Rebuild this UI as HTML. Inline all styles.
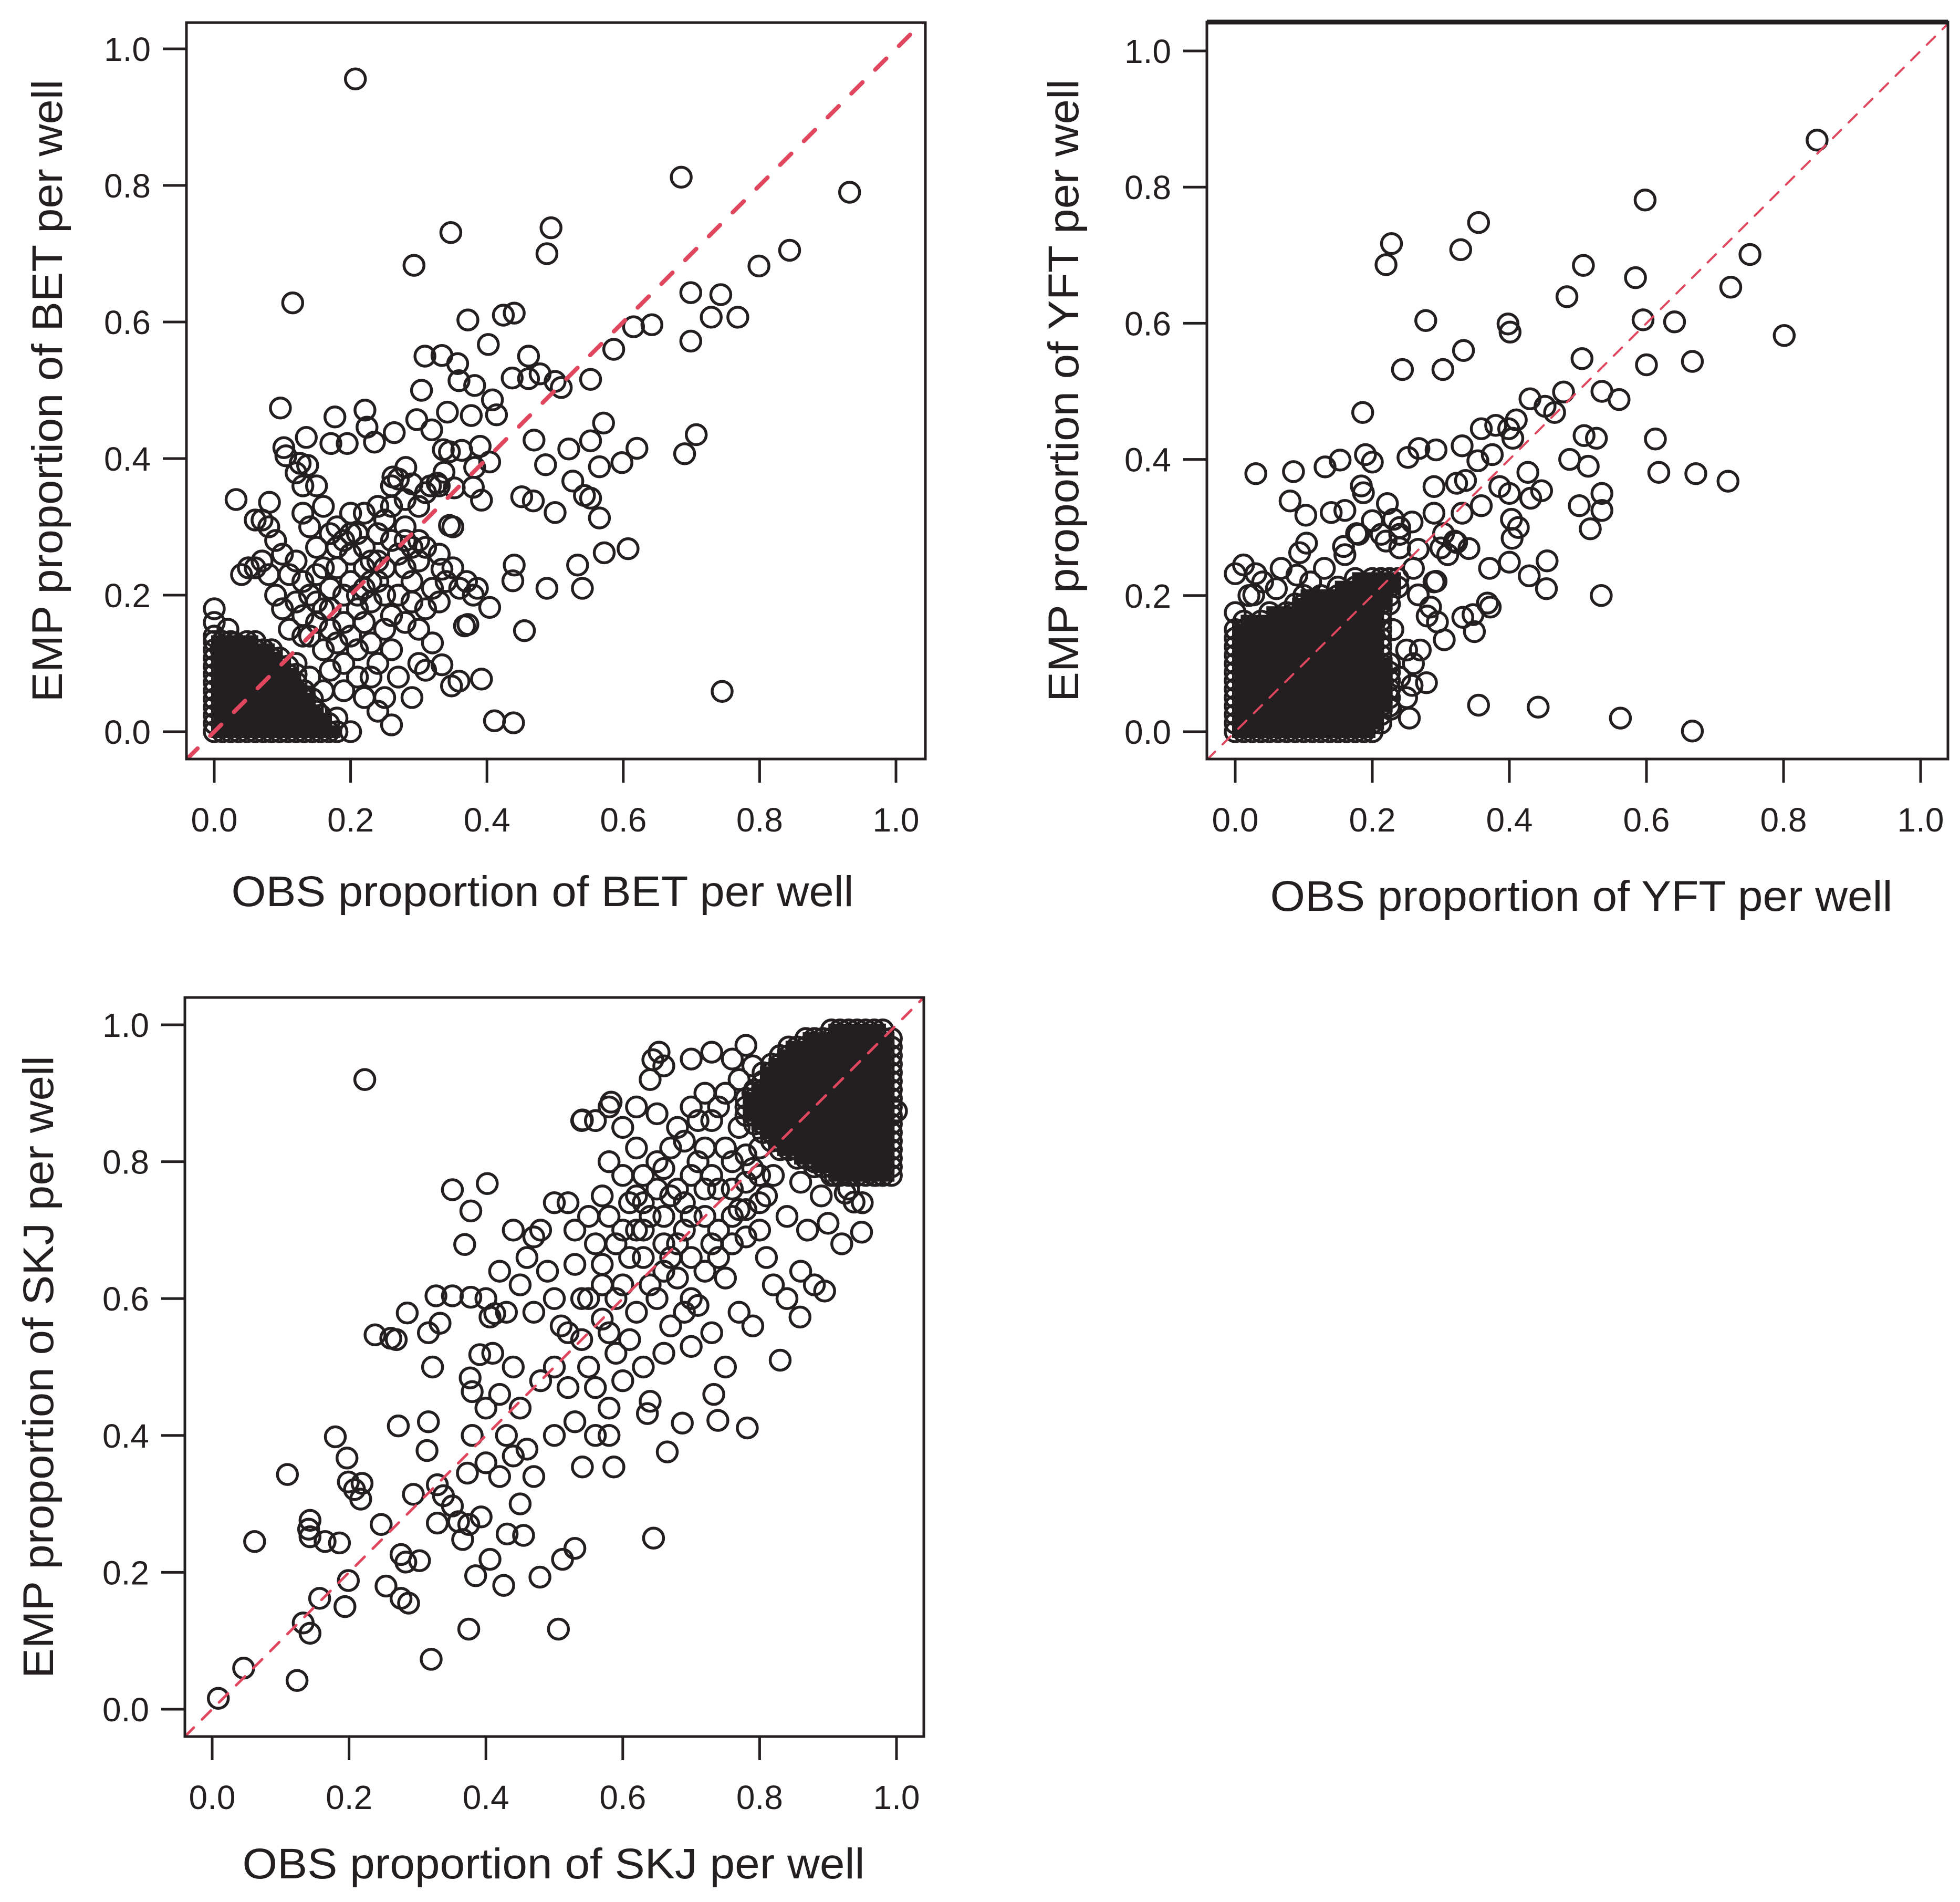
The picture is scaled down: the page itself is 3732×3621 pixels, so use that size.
<!DOCTYPE html>
<html><head><meta charset="utf-8">
<style>
html,body{margin:0;padding:0;background:#fff;}
svg{display:block;}
text{font-family:"Liberation Sans",sans-serif;fill:#231f20;}
</style></head>
<body>
<svg id="fig" xmlns="http://www.w3.org/2000/svg" width="3732" height="3621" viewBox="0 0 3732 3621"></svg>
<script>
const tickValues = [0, 0.2, 0.4, 0.6, 0.8, 1.0];
const tickLabels = ["0.0", "0.2", "0.4", "0.6", "0.8", "1.0"];

const betPoints = [
[0.207,0.956],[0.685,0.812],[0.932,0.79],[0.347,0.731],[0.494,0.738],[0.488,0.7],[0.293,0.683],[0.844,0.705],[0.799,0.682],[0.115,0.628],
[0.699,0.643],[0.743,0.64],[0.729,0.607],[0.768,0.607],[0.699,0.572],[0.372,0.603],[0.424,0.61],[0.44,0.613],[0.402,0.567],[0.615,0.593],
[0.642,0.596],[0.586,0.56],[0.334,0.551],[0.309,0.55],[0.357,0.539],[0.359,0.514],[0.461,0.55],[0.437,0.518],[0.461,0.517],[0.478,0.524],
[0.5,0.513],[0.509,0.504],[0.552,0.516],[0.304,0.5],[0.382,0.507],[0.408,0.486],[0.097,0.474],[0.177,0.461],[0.221,0.471],[0.224,0.446],
[0.297,0.457],[0.342,0.468],[0.377,0.463],[0.414,0.464],[0.319,0.442],[0.264,0.438],[0.135,0.431],[0.235,0.424],[0.171,0.422],[0.195,0.422],
[0.571,0.452],[0.552,0.426],[0.707,0.435],[0.69,0.407],[0.469,0.427],[0.52,0.414],[0.62,0.415],[0.598,0.394],[0.565,0.388],[0.486,0.391],
[0.526,0.367],[0.102,0.416],[0.105,0.404],[0.126,0.393],[0.137,0.39],[0.12,0.379],[0.13,0.36],[0.032,0.34],[0.081,0.336],[0.336,0.413],
[0.345,0.41],[0.363,0.412],[0.39,0.418],[0.404,0.395],[0.382,0.387],[0.262,0.373],[0.281,0.387],[0.29,0.363],[0.317,0.36],[0.327,0.364],
[0.337,0.38],[0.352,0.357],[0.38,0.358],[0.392,0.339],[0.451,0.344],[0.468,0.338],[0.5,0.321],[0.543,0.346],[0.552,0.342],[0.565,0.313],
[0.607,0.268],[0.572,0.262],[0.533,0.244],[0.54,0.21],[0.488,0.21],[0.44,0.244],[0.438,0.221],[0.455,0.148],[0.386,0.21],[0.404,0.182],
[0.367,0.155],[0.372,0.157],[0.334,0.098],[0.348,0.067],[0.359,0.074],[0.392,0.077],[0.745,0.059],[0.411,0.016],[0.439,0.013],[0.334,0.238],
[0.345,0.302],[0.35,0.3],
[0.13,0.32],[0.14,0.3],[0.16,0.33],[0.15,0.27],[0.17,0.29],[0.18,0.3],[0.19,0.28],[0.2,0.26],[0.21,0.29],[0.22,0.27],[0.23,0.25],[0.24,0.29],
[0.25,0.31],[0.26,0.28],[0.27,0.26],[0.28,0.24],[0.29,0.22],[0.3,0.25],[0.31,0.27],[0.32,0.21],[0.33,0.19],[0.34,0.22],[0.26,0.33],[0.28,0.34],
[0.12,0.25],[0.13,0.22],[0.14,0.2],[0.15,0.23],[0.16,0.18],[0.17,0.21],[0.18,0.24],[0.19,0.2],[0.2,0.22],[0.21,0.18],[0.22,0.21],[0.23,0.19],
[0.24,0.22],[0.25,0.2],[0.26,0.17],[0.27,0.2],[0.28,0.16],[0.29,0.19],[0.3,0.15],[0.31,0.18],[0.32,0.13],[0.3,0.1],[0.31,0.09],[0.29,0.05],
[0.27,0.08],[0.26,0.12],[0.25,0.15],[0.24,0.1],[0.23,0.13],[0.22,0.16],[0.21,0.12],[0.2,0.14],[0.19,0.1],[0.18,0.13],[0.17,0.15],[0.16,0.12],
[0.15,0.16],[0.14,0.14],[0.13,0.17],[0.12,0.19],[0.11,0.15],[0.1,0.18],[0.09,0.2],[0.08,0.23],[0.07,0.25],[0.06,0.24],[0.05,0.24],[0.04,0.23],
[0.08,0.3],[0.09,0.28],[0.07,0.31],[0.06,0.31],[0.1,0.26],[0.11,0.23],[0.25,0.05],[0.24,0.03],[0.26,0.01],[0.22,0.05],[0.2,0.0],[0.18,0.02],
[0.21,0.08],[0.19,0.06],[0.23,0.08],[0.17,0.09],[0.16,0.06],[0.15,0.03],[0.14,0.08],[0.13,0.05],[0.12,0.1],[0.11,0.07],[0.33,0.26],[0.35,0.24],
[0.36,0.21],[0.37,0.22],[0.38,0.2],[0.31,0.35],[0.33,0.36],[0.3,0.33],[0.28,0.3],[0.27,0.37],[0.24,0.33],[0.2,0.32],[0.22,0.32],[0.15,0.36],
[0.26,0.36],[0.28,0.28],[0.29,0.27],[0.3,0.28],
[0,0.18],[0,0.16],[0,0.14],[0.02,0.15],[0.03,0.13],[0.01,0.12],
[0.16,0.24],[0.18,0.27],[0.2,0.29],[0.22,0.24],[0.24,0.25],[0.19,0.16],[0.21,0.2],[0.23,0.22],[0.25,0.24],[0.17,0.18],[0.15,0.19],[0.13,0.14]
];
/* dense core of the BET cloud: rows of [emp, obs values] */
const betCoreRows = [
[0,     [0,.012,.024,.036,.048,.06,.072,.084,.096,.108,.12,.132,.144,.156,.168,.18]],
[0.012, [0,.012,.024,.036,.048,.06,.072,.084,.096,.108,.12,.132,.144,.156,.168]],
[0.024, [0,.012,.024,.036,.048,.06,.072,.084,.096,.108,.12,.132,.144,.156]],
[0.036, [0,.012,.024,.036,.048,.06,.072,.084,.096,.108,.12,.132,.144]],
[0.048, [0,.012,.024,.036,.048,.06,.072,.084,.096,.108,.12,.132,.144]],
[0.06,  [0,.012,.024,.036,.048,.06,.072,.084,.096,.108,.12,.132]],
[0.072, [0,.012,.024,.036,.048,.06,.072,.084,.096,.108,.12]],
[0.084, [0,.012,.024,.036,.048,.06,.072,.084,.096,.108,.12]],
[0.096, [0,.012,.024,.036,.048,.06,.072,.084,.096,.108]],
[0.108, [0,.012,.024,.036,.048,.06,.072,.084,.096]],
[0.12,  [0,.012,.024,.036,.048,.06,.072,.084]],
[0.132, [0,.012,.024,.048,.06]]
];

const yftPoints = [
[0.849,0.869],[0.598,0.781],[0.355,0.748],[0.228,0.717],[0.22,0.686],[0.329,0.708],[0.751,0.701],[0.723,0.653],[0.508,0.685],[0.584,0.667],
[0.484,0.639],[0.278,0.604],[0.398,0.599],[0.401,0.587],[0.595,0.605],[0.641,0.602],[0.801,0.582],[0.333,0.56],[0.244,0.532],[0.303,0.532],
[0.506,0.548],[0.6,0.539],[0.667,0.544],[0.186,0.469],[0.43,0.489],[0.479,0.499],[0.535,0.5],[0.56,0.488],[0.452,0.478],[0.466,0.469],
[0.613,0.43],[0.509,0.435],[0.527,0.431],[0.488,0.4],[0.515,0.39],[0.618,0.381],[0.672,0.379],[0.719,0.368],[0.502,0.332],[0.535,0.35],
[0.535,0.325],[0.518,0.298],[0.534,0.2],[0.455,0.251],[0.454,0.21],[0.429,0.229],[0.4,0.249],[0.355,0.039],[0.442,0.036],[0.562,0.02],
[0.667,0.001],[0.03,0.379],[0.085,0.382],[0.131,0.389],[0.153,0.399],[0.08,0.339],[0.103,0.318],[0.14,0.322],[0.16,0.325],[0.19,0.407],
[0.2,0.396],[0.184,0.361],[0.187,0.351],[0.252,0.403],[0.268,0.416],[0.293,0.414],[0.331,0.42],[0.359,0.445],[0.38,0.45],[0.399,0.445],
[0.41,0.458],[0.405,0.431],[0.375,0.407],[0.354,0.398],[0.336,0.369],[0.323,0.365],[0.29,0.36],[0.29,0.321],[0.331,0.321],[0.359,0.332],
[0.386,0.36],[0.4,0.35],[0.427,0.381],[0.447,0.354],[0.431,0.343],[0.403,0.312],[0.404,0.284],[0.413,0.3],[0.304,0.291],[0.323,0.278],
[0.341,0.269],[0.371,0.24],[0.368,0.189],[0.372,0.183],[0.347,0.172],[0.332,0.168],[0.349,0.147],[0.305,0.135],[0.279,0.072],[0.222,0.335],
[0.231,0.312],[0.258,0.308],[0.213,0.29],[0.24,0.29],[0.267,0.268],[0.293,0.221],[0.267,0.201],[0.285,0.183],[0.295,0.161],[0.177,0.291],
[0.158,0.272],[0.104,0.277],[0.094,0.263],[0.012,0.245],[0.0,0.232],[0.03,0.232],[0.067,0.24],[0.0,0.175],[0.027,0.201],[0.258,0.068],
[0.254,0.02],[0.2,0.02],[0.227,0.033],
[0.22,0.28],[0.24,0.3],[0.26,0.24],[0.28,0.17],[0.27,0.12],[0.3,0.27],[0.31,0.26],[0.32,0.28],[0.29,0.22],[0.18,0.29],[0.2,0.31],[0.24,0.27],
[0.16,0.26],[0.13,0.24],[0.11,0.22],[0.09,0.23],[0.06,0.21],[0.04,0.22],[0.02,0.2],[0.25,0.12],[0.26,0.1],[0.25,0.05],[0.24,0.08],[0.23,0.15]
];
const yftCoreRows = [
[0,      [0,.0125,.025,.0375,.05,.0625,.075,.0875,.1,.1125,.125,.1375,.15,.1625,.175,.1875,.2]],
[0.0125, [0,.0125,.025,.0375,.05,.0625,.075,.0875,.1,.1125,.125,.1375,.15,.1625,.175,.1875,.2,.2125]],
[0.025,  [0,.0125,.025,.0375,.05,.0625,.075,.0875,.1,.1125,.125,.1375,.15,.1625,.175,.1875,.2,.2125]],
[0.0375, [0,.0125,.025,.0375,.05,.0625,.075,.0875,.1,.1125,.125,.1375,.15,.1625,.175,.1875,.2,.2125,.225]],
[0.05,   [0,.0125,.025,.0375,.05,.0625,.075,.0875,.1,.1125,.125,.1375,.15,.1625,.175,.1875,.2,.2125,.225]],
[0.0625, [0,.0125,.025,.0375,.05,.0625,.075,.0875,.1,.1125,.125,.1375,.15,.1625,.175,.1875,.2,.2125,.225]],
[0.075,  [0,.0125,.025,.0375,.05,.0625,.075,.0875,.1,.1125,.125,.1375,.15,.1625,.175,.1875,.2,.2125,.225]],
[0.0875, [0,.0125,.025,.0375,.05,.0625,.075,.0875,.1,.1125,.125,.1375,.15,.1625,.175,.1875,.2,.2125,.225]],
[0.1,    [0,.0125,.025,.0375,.05,.0625,.075,.0875,.1,.1125,.125,.1375,.15,.1625,.175,.1875,.2,.2125,.225]],
[0.1125, [0,.0125,.025,.0375,.05,.0625,.075,.0875,.1,.1125,.125,.1375,.15,.1625,.175,.1875,.2,.2125]],
[0.125,  [0,.0125,.025,.0375,.05,.0625,.075,.0875,.1,.1125,.125,.1375,.15,.1625,.175,.1875,.2,.2125]],
[0.1375, [0,.0125,.025,.0375,.05,.0625,.075,.0875,.1,.1125,.125,.1375,.15,.1625,.175,.1875,.2,.2125]],
[0.15,   [0,.0125,.025,.05,.0625,.075,.0875,.1,.1125,.125,.1375,.15,.1625,.175,.1875,.2,.2125]],
[0.1625, [.0125,.0375,.0625,.075,.0875,.1,.1125,.125,.1375,.15,.1625,.175,.1875,.2,.2125]],
[0.175,  [.05,.075,.0875,.1,.1125,.125,.1375,.15,.1625,.175,.1875,.2,.2125]],
[0.1875, [.0875,.1,.1125,.125,.1375,.15,.1625,.175,.1875,.2,.2125,.225]],
[0.2,    [.1,.125,.15,.1625,.175,.1875,.2,.2125,.225]],
[0.2125, [.15,.175,.1875,.2,.2125,.225,.2375]],
[0.225,  [.175,.2,.2125,.225,.2375]]
];

const skjPoints = [
[0.223,0.92],[0.009,0.016],[0.046,0.06],[0.124,0.042],[0.062,0.245],[0.11,0.343],[0.133,0.126],[0.143,0.111],[0.157,0.162],[0.18,0.398],
[0.197,0.367],[0.199,0.332],[0.208,0.321],[0.219,0.33],[0.217,0.307],[0.143,0.276],[0.141,0.263],[0.143,0.252],[0.165,0.245],[0.186,0.243],
[0.199,0.188],[0.194,0.15],[0.247,0.27],[0.254,0.18],[0.276,0.162],[0.287,0.155],[0.276,0.226],[0.283,0.215],[0.303,0.217],[0.32,0.073],
[0.294,0.314],[0.272,0.414],[0.238,0.547],[0.261,0.542],[0.269,0.54],[0.285,0.579],[0.316,0.55],[0.327,0.604],[0.351,0.604],[0.333,0.564],
[0.351,0.759],[0.402,0.768],[0.378,0.728],[0.369,0.679],[0.378,0.602],[0.406,0.573],[0.413,0.578],[0.322,0.5],[0.314,0.378],[0.316,0.42],
[0.329,0.328],[0.338,0.312],[0.351,0.297],[0.329,0.272],[0.36,0.274],[0.375,0.27],[0.366,0.248],[0.393,0.281],[0.406,0.219],[0.385,0.195],
[0.375,0.117],[0.426,0.181],[0.431,0.256],[0.455,0.254],[0.479,0.193],[0.506,0.117],[0.512,0.219],[0.53,0.235],[0.645,0.25],[0.373,0.345],
[0.38,0.464],[0.377,0.484],[0.391,0.518],
[0.83,0.51],[0.782,0.411],[0.739,0.422],[0.733,0.46],[0.665,0.376],[0.636,0.432],[0.687,0.418],[0.859,0.573],[0.895,0.611],[0.949,0.697],
[0.938,0.741],[0.925,0.754],[1.0,0.874],[0.587,0.354],[0.541,0.354],[0.541,0.861],[0.644,0.949],[0.653,0.96],[0.583,0.887],
[0.55,0.6],[0.57,0.65],[0.58,0.55],[0.6,0.62],[0.6,0.7],[0.62,0.58],[0.62,0.75],[0.63,0.66],[0.64,0.72],[0.65,0.6],[0.65,0.8],[0.66,0.68],
[0.67,0.75],[0.68,0.63],[0.68,0.85],[0.69,0.7],[0.7,0.78],[0.7,0.66],[0.71,0.59],[0.72,0.72],[0.72,0.82],[0.73,0.68],[0.74,0.76],[0.74,0.88],
[0.75,0.63],[0.76,0.8],[0.76,0.72],[0.77,0.85],[0.78,0.69],[0.78,0.77],[0.79,0.9],[0.8,0.74],[0.8,0.82],[0.81,0.66],[0.81,0.87],[0.82,0.78],
[0.84,0.72],[0.85,0.82],[0.86,0.77],[0.87,0.7],[0.88,0.8],[0.89,0.75],[0.9,0.71],[0.91,0.78],[0.92,0.68],[0.93,0.76],[0.94,0.8],
[0.95,0.74],[0.96,0.82],[0.97,0.78],[0.98,0.84],[0.55,0.5],[0.56,0.47],[0.58,0.44],[0.59,0.52],[0.6,0.48],[0.61,0.54],[0.63,0.5],
[0.64,0.45],[0.66,0.52],[0.67,0.56],[0.69,0.58],[0.7,0.53],[0.73,0.55],[0.75,0.5],[0.77,0.58],[0.79,0.56],[0.82,0.62],[0.84,0.6],[0.86,0.64],
[0.88,0.62],[0.52,0.55],[0.5,0.6],[0.53,0.65],[0.55,0.72],[0.57,0.75],[0.58,0.8],[0.6,0.85],[0.62,0.88],[0.64,0.92],[0.66,0.94],[0.7,0.95],
[0.73,0.96],[0.76,0.95],[0.78,0.97],[0.72,0.9],[0.65,0.87],[0.6,0.78],[0.62,0.82],[0.54,0.86],[0.56,0.86],[0.58,0.88],[0.53,0.7],[0.48,0.7],
[0.46,0.66],[0.45,0.62],[0.47,0.58],[0.5,0.5],[0.52,0.47],[0.48,0.48],[0.44,0.5],[0.42,0.46],[0.45,0.44],[0.4,0.44],[0.43,0.4],[0.46,0.38],
[0.5,0.4],[0.53,0.42],[0.56,0.4],[0.58,0.4],[0.47,0.34],[0.45,0.3],[0.42,0.34],[0.44,0.37],[0.4,0.36],[0.38,0.4],[0.41,0.52],[0.43,0.58],
[0.4,0.6],[0.42,0.64],[0.44,0.7],[0.47,0.69],[0.5,0.74],[0.52,0.74],[0.49,0.64],[0.51,0.56],[0.54,0.54],[0.57,0.62],[0.59,0.68],[0.61,0.74],
[0.63,0.78],
[0.61,0.66],[0.63,0.7],[0.64,0.62],[0.66,0.72],[0.67,0.66],[0.68,0.76],[0.69,0.74],[0.7,0.72],[0.71,0.8],[0.72,0.76],[0.73,0.78],[0.74,0.7],
[0.75,0.82],[0.76,0.76],[0.77,0.73],[0.78,0.81],[0.79,0.79],[0.8,0.78],[0.81,0.75],[0.66,0.79],[0.67,0.82],[0.69,0.83],[0.71,0.86],[0.7,0.88],
[0.73,0.86],[0.75,0.9],[0.77,0.92],[0.79,0.94],[0.66,0.64],[0.68,0.68],[0.7,0.6],[0.72,0.64],[0.74,0.66],[0.76,0.68],[0.78,0.73],[0.8,0.7],
[0.62,0.7],[0.58,0.72],[0.56,0.68],[0.54,0.6],[0.57,0.57],[0.59,0.6],[0.63,0.74],[0.65,0.76]
];
const skjCoreRows = [
[0.78,   [.905,.9175,.93,.9425,.955,.9675,.98,.9925]],
[0.7925, [.88,.8925,.905,.9175,.93,.9425,.955,.9675,.98,.9925]],
[0.805,  [.855,.8675,.88,.8925,.905,.9175,.93,.9425,.955,.9675,.98,.9925]],
[0.8175, [.83,.8425,.855,.8675,.88,.8925,.905,.9175,.93,.9425,.955,.9675,.98,.9925]],
[0.83,   [.8175,.83,.8425,.855,.8675,.88,.8925,.905,.9175,.93,.9425,.955,.9675,.98,.9925]],
[0.8425, [.805,.8175,.83,.8425,.855,.8675,.88,.8925,.905,.9175,.93,.9425,.955,.9675,.98,.9925]],
[0.855,  [.7925,.805,.8175,.83,.8425,.855,.8675,.88,.8925,.905,.9175,.93,.9425,.955,.9675,.98,.9925]],
[0.8675, [.78,.7925,.805,.8175,.83,.8425,.855,.8675,.88,.8925,.905,.9175,.93,.9425,.955,.9675,.98,.9925]],
[0.88,   [.78,.7925,.805,.8175,.83,.8425,.855,.8675,.88,.8925,.905,.9175,.93,.9425,.955,.9675,.98,.9925]],
[0.8925, [.78,.7925,.805,.8175,.83,.8425,.855,.8675,.88,.8925,.905,.9175,.93,.9425,.955,.9675,.98,.9925]],
[0.905,  [.7925,.805,.8175,.83,.8425,.855,.8675,.88,.8925,.905,.9175,.93,.9425,.955,.9675,.98,.9925]],
[0.9175, [.805,.8175,.83,.8425,.855,.8675,.88,.8925,.905,.9175,.93,.9425,.955,.9675,.98,.9925]],
[0.93,   [.805,.8175,.83,.8425,.855,.8675,.88,.8925,.905,.9175,.93,.9425,.955,.9675,.98,.9925]],
[0.9425, [.8175,.83,.8425,.855,.8675,.88,.8925,.905,.9175,.93,.9425,.955,.9675,.98,.9925]],
[0.955,  [.83,.8425,.855,.8675,.88,.8925,.905,.9175,.93,.9425,.955,.9675,.98,.9925]],
[0.9675, [.8425,.855,.8675,.88,.8925,.905,.9175,.93,.9425,.955,.9675,.98,.9925]],
[0.98,   [.8675,.88,.8925,.905,.9175,.93,.9425,.955,.9675,.98,.9925]],
[0.9925, [.905,.9175,.93,.9425,.955,.9675,.98]]
];

const NS = "http://www.w3.org/2000/svg";
const svg = document.getElementById('fig');
function mk(tag, attrs, parent) {
  const e = document.createElementNS(NS, tag);
  for (const k in attrs) e.setAttribute(k, attrs[k]);
  (parent || svg).appendChild(e);
  return e;
}

function drawPanel(cfg, points, coreRows, key) {
  const g = mk('g', {});
  
  
  const sx = v => cfg.x0 + (cfg.x1 - cfg.x0) * v;
  const sy = v => cfg.y0 + (cfg.y1 - cfg.y0) * v;
  const clipId = 'clip-' + key;
  const cp = mk('clipPath', {id: clipId}, g);
  mk('rect', {x: cfg.L, y: cfg.T, width: cfg.R - cfg.L, height: cfg.B - cfg.T}, cp);

  /* overplotted core: solid ink where the circles overlap completely */
  const core = mk('g', {'clip-path': 'url(#' + clipId + ')', fill: '#231f20'}, g);
  
  
  coreRows.forEach(row => {
    const xs = row[1];
    const a = sx(Math.min(...xs)), b = sx(Math.max(...xs));
    const band = mk('rect', {x: a - 6, y: sy(row[0]) - 12, width: b - a + 12, height: 24}, core);
    
    
  });

  const pts = mk('g', {'clip-path': 'url(#' + clipId + ')', fill: 'none', stroke: '#231f20', 'stroke-width': 5.5}, g);
  
  
  function dot(x, y) {
    const c = mk('circle', {cx: sx(x).toFixed(1), cy: sy(y).toFixed(1), r: 19}, pts);
    
    
  }
  coreRows.forEach(row => row[1].forEach(x => dot(x, row[0])));
  points.forEach(p => dot(p[0], p[1]));

  const lo = (cfg.L - cfg.x0) / (cfg.x1 - cfg.x0), hi = (cfg.R - cfg.x0) / (cfg.x1 - cfg.x0);
  const dl = mk('line', {x1: sx(lo), y1: sy(lo), x2: sx(hi), y2: sy(hi), stroke: '#e0475f',
    'stroke-width': cfg.dw, 'stroke-dasharray': cfg.dash, 'stroke-linecap': 'round', 'clip-path': 'url(#' + clipId + ')'}, g);
  
  

  const box = mk('rect', {x: cfg.L, y: cfg.T, width: cfg.R - cfg.L, height: cfg.B - cfg.T, fill: 'none', stroke: '#231f20', 'stroke-width': 5}, g);
  
  
  if (cfg.thickTop) mk('line', {x1: cfg.L, y1: cfg.T, x2: cfg.R, y2: cfg.T, stroke: '#231f20', 'stroke-width': 9}, g);

  tickValues.forEach((v, i) => {
    const xt = mk('line', {x1: sx(v), y1: cfg.B, x2: sx(v), y2: cfg.B + 45, stroke: '#231f20', 'stroke-width': 5}, g);
    
    
    const xl = mk('text', {x: sx(v), y: cfg.B + 138, 'font-size': 64, 'text-anchor': 'middle'}, g);
    xl.textContent = tickLabels[i];
    
    
    const yt = mk('line', {x1: cfg.L - 45, y1: sy(v), x2: cfg.L, y2: sy(v), stroke: '#231f20', 'stroke-width': 5}, g);
    
    
    const yl = mk('text', {x: cfg.L - 68, y: sy(v) + 23, 'font-size': 64, 'text-anchor': 'end'}, g);
    yl.textContent = tickLabels[i];
    
    
  });

  const xt = mk('text', {x: cfg.xtx, y: cfg.xty, 'font-size': 82, 'text-anchor': 'middle', textLength: 1185, lengthAdjust: 'spacingAndGlyphs'}, g);
  xt.textContent = cfg.xTitle;
  
  
  const yc = (cfg.T + cfg.B) / 2;
  const yt = mk('text', {x: 0, y: 0, 'font-size': 82, 'text-anchor': 'middle', textLength: 1185, lengthAdjust: 'spacingAndGlyphs',
    transform: 'translate(' + (cfg.ytx + 30) + ',' + yc + ') rotate(-90)'}, g);
  yt.textContent = cfg.yTitle;
  
  
}

drawPanel({L:355,R:1762,T:43,B:1445,x0:408,x1:1706,y0:1393,y1:93,dw:8,dash:'30 34',
  xtx:1033,xty:1725,ytx:88,xTitle:'OBS proportion of BET per well',yTitle:'EMP proportion of BET per well'}, betPoints, betCoreRows, 'bet');
drawPanel({L:2298,R:3709,T:42,B:1445,x0:2352,x1:3657,y0:1393,y1:97,dw:4,dash:'22 20',thickTop:true,
  xtx:3011,xty:1734,ytx:2023,xTitle:'OBS proportion of YFT per well',yTitle:'EMP proportion of YFT per well'}, yftPoints, yftCoreRows, 'yft');
drawPanel({L:352,R:1759,T:1899,B:3306,x0:404,x1:1707,y0:3254,y1:1951,dw:5,dash:'24 22',
  xtx:1054,xty:3576,ytx:71,xTitle:'OBS proportion of SKJ per well',yTitle:'EMP proportion of SKJ per well'}, skjPoints, skjCoreRows, 'skj');
</script>
</body></html>
